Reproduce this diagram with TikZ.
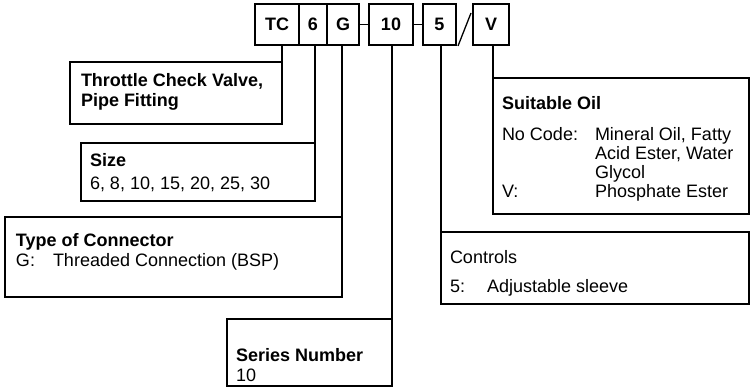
\documentclass[tikz,border=0pt]{standalone}
\usepackage{fontspec}
\setmainfont{Liberation Sans}
\begin{document}
\begin{tikzpicture}[x=1pt,y=-1pt,
  every node/.style={inner sep=0pt,outer sep=0pt},
  box/.style={draw,line width=1.3pt,rectangle,anchor=north west},
  codebox/.style={box,font=\fontsize{18}{20}\selectfont\bfseries},
  txt/.style={anchor=base west,font=\fontsize{18}{20}\selectfont},
  btxt/.style={txt,font=\fontsize{18}{20}\selectfont\bfseries},
  link/.style={line width=1.3pt}]
\useasboundingbox (0,0) rectangle (756,390);
% code boxes
\node[codebox,minimum width=44pt,minimum height=41pt] (tc) at (255,4) {TC};
\node[codebox,minimum width=28pt,minimum height=41pt] (six) at (299,4) {6};
\node[codebox,minimum width=32pt,minimum height=41pt] (g) at (327,4) {G};
\node[codebox,minimum width=44pt,minimum height=41pt] (ten) at (369,4) {10};
\node[codebox,minimum width=33pt,minimum height=41pt] (five) at (423,4) {5};
\node[codebox,minimum width=36pt,minimum height=41pt] (v) at (473,4) {V};
\draw[link] (g.east) -- (ten.west);
\draw[link] (ten.east) -- (five.west);
\coordinate (slA) at (458,46);
\coordinate (slB) at (471,13);
\draw[link] (slA) -- (slB);
% description boxes
\node[box,minimum width=212pt,minimum height=62pt] (thr) at (70,62) {};
\node[box,minimum width=234pt,minimum height=58pt] (size) at (81,143) {};
\node[box,minimum width=337pt,minimum height=80pt] (type) at (5,217) {};
\node[box,minimum width=165pt,minimum height=67pt] (ser) at (227,319) {};
\node[box,minimum width=308pt,minimum height=72pt] (ctl) at (441,232) {};
\node[box,minimum width=256pt,minimum height=136pt] (oil) at (493,78) {};
% leaders
\draw[link] (thr.north east |- tc.south) -- (thr.north east);
\draw[link] (size.north east |- six.south) -- (size.north east);
\draw[link] (type.north east |- g.south) -- (type.north east);
\draw[link] (ser.north east |- ten.south) -- (ser.north east);
\draw[link] (ctl.north west |- five.south) -- (ctl.north west);
\draw[link] (oil.north west |- v.south) -- (oil.north west);
% texts
\node[btxt] (t1) at (81,86.7) {Throttle Check Valve,};
\node[btxt] (t2) at (81,106.7) {Pipe Fitting};
\node[btxt] (s1) at (90,167) {Size};
\node[txt] (s2) at (90,190) {6, 8, 10, 15, 20, 25, 30};
\node[btxt] (y1) at (16,247) {Type of Connector};
\node[txt] (y2) at (16,267) {G:};
\node[txt] (y3) at (53,267) {Threaded Connection (BSP)};
\node[btxt] (n1) at (236,362) {Series Number};
\node[txt] (n2) at (236,382) {10};
\node[txt] (c1) at (450,264) {Controls};
\node[txt] (c2) at (450,293) {5:};
\node[txt] (c3) at (487,293) {Adjustable sleeve};
\node[btxt] (o1) at (502,110) {Suitable Oil};
\node[txt] (o2) at (502,140.7) {No Code:};
\node[txt] (o3) at (595,140.7) {Mineral Oil, Fatty};
\node[txt] (o4) at (595,160) {Acid Ester, Water};
\node[txt] (o5) at (595,179) {Glycol};
\node[txt] (o6) at (502,198) {V:};
\node[txt] (o7) at (595,198) {Phosphate Ester};
\end{tikzpicture}
\end{document}
